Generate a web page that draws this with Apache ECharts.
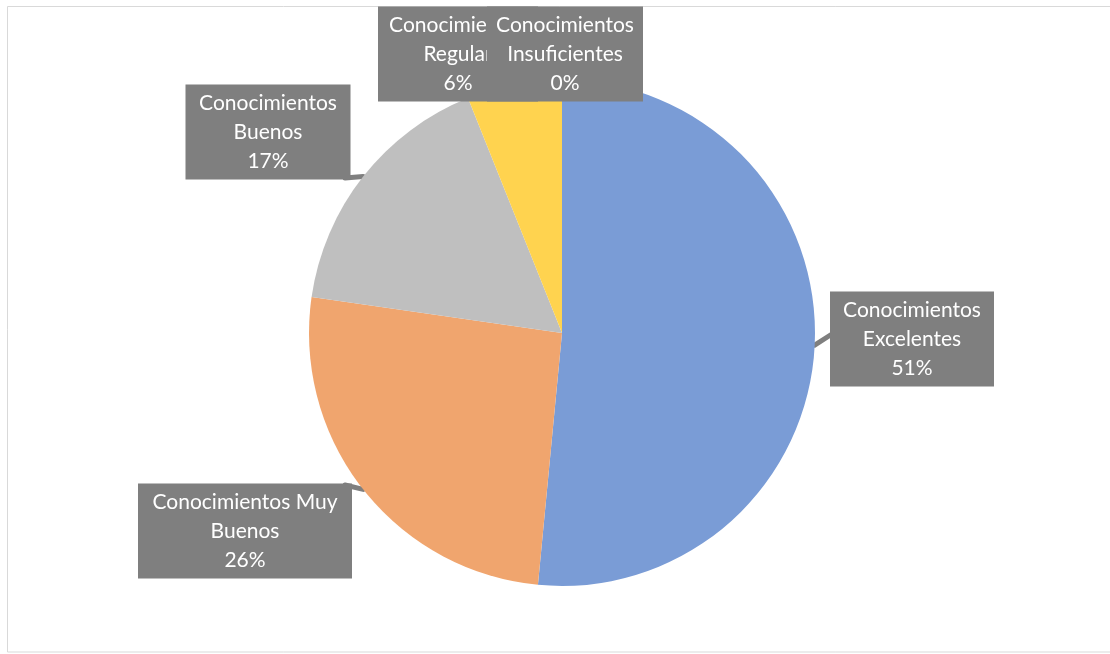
<!DOCTYPE html>
<html>
<head>
<meta charset="utf-8">
<script src="https://cdn.jsdelivr.net/npm/echarts@6/dist/echarts.min.js"></script>
<style>
html,body{margin:0;padding:0;background:#fff;}
#chart{width:1110px;height:654px;}
</style>
</head>
<body>
<div id="chart"></div>
<script>
const categories = ['Conocimientos Excelentes', 'Conocimientos Muy Buenos', 'Conocimientos Buenos', 'Conocimientos Regular', 'Conocimientos Insuficientes'];
const counts = [34, 17, 11, 4, 0];
const colors = ['#7A9CD6', '#F0A56E', '#BFBFBF', '#FFD34F', '#5B9BD5'];

const labelBoxes = {
  0: {cx: 912, cy: 339, w: 164, anchor: [832, 334]},
  1: {cx: 245, cy: 531, w: 214, anchor: [345, 485]},
  2: {cx: 268, cy: 132, w: 165, anchor: [345, 178]},
  3: {cx: 458, cy: 54, w: 160, anchor: null},
  4: {cx: 565, cy: 54, w: 156, anchor: null}
};

const chart = echarts.init(document.getElementById('chart'), null, {renderer: 'canvas'});
chart.setOption({
  animation: false,
  backgroundColor: '#fff',
  graphic: [{
    type: 'rect', silent: true, z: -1,
    shape: {x: 7.5, y: 6.5, width: 1120, height: 645.5},
    style: {fill: 'none', stroke: '#d9d9d9', lineWidth: 1}
  }],
  series: [{
    type: 'pie',
    center: [562, 333],
    radius: 253,
    startAngle: 90,
    clockwise: true,
    percentPrecision: 0,
    avoidLabelOverlap: false,
    itemStyle: {borderWidth: 0},
    emphasis: {disabled: true},
    data: categories.map((c, i) => ({
      name: c, value: counts[i], itemStyle: {color: colors[i]},
      labelLine: {show: i < 3}
    })),
    label: {
      show: true,
      position: 'outside',
      formatter: p => {
        const parts = p.name.split(' ');
        let first, rest;
        if (p.dataIndex === 1) { first = 'Conocimientos Muy'; rest = 'Buenos'; }
        else { first = parts[0]; rest = parts.slice(1).join(' '); }
        return first + '\n' + rest + '\n' + Math.round(p.percent) + '%';
      },
      color: '#ffffff',
      fontFamily: 'Lato, Open Sans, sans-serif',
      fontSize: 21,
      lineHeight: 29,
      backgroundColor: '#7F7F7F',
      align: 'center',
      padding: [4, 3, 4, 3],
      overflow: 'truncate',
      ellipsis: ''
    },
    labelLine: {show: true, length: 5, length2: 5, smooth: false,
      lineStyle: {color: '#7F7F7F', width: 5, cap: 'round'}},
    labelLayout: function (params) {
      const b = labelBoxes[params.dataIndex];
      const out = {
        x: b.cx,
        y: b.cy,
        align: 'center',
        verticalAlign: 'middle',
        width: b.w - 6
      };
      if (b.anchor && params.labelLinePoints) {
        const e = params.labelLinePoints[0];
        out.labelLinePoints = [e, b.anchor, b.anchor];
      }
      return out;
    }
  }]
});
</script>
</body>
</html>
